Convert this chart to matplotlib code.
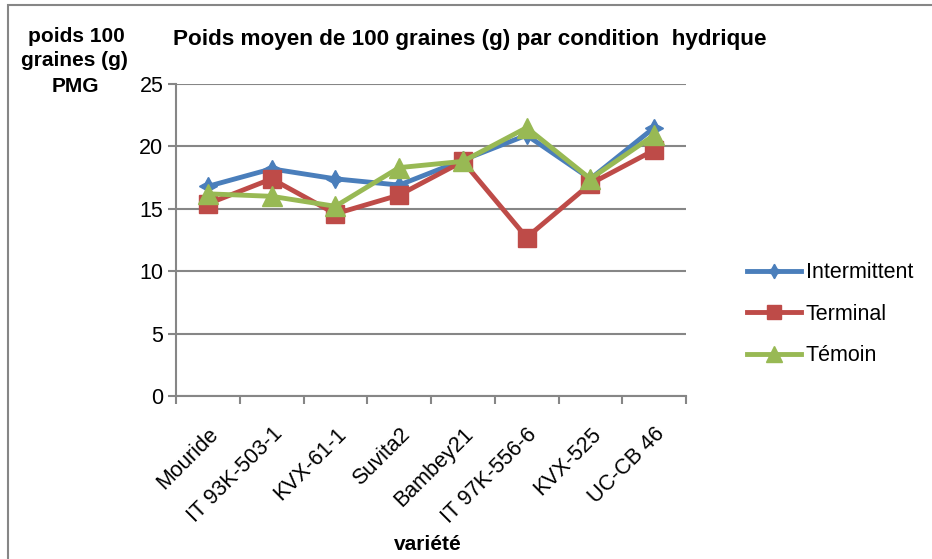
import matplotlib
matplotlib.use("Agg")
import matplotlib.pyplot as plt
from matplotlib.patches import Rectangle

plt.rcParams['font.family'] = ['Liberation Sans', 'DejaVu Sans']

categories = ["Mouride", "IT 93K-503-1", "KVX-61-1", "Suvita2", "Bambey21",
              "IT 97K-556-6", "KVX-525", "UC-CB 46"]
intermittent = [16.8, 18.2, 17.4, 16.9, 18.9, 20.9, 17.4, 21.5]
terminal = [15.4, 17.4, 14.6, 16.1, 18.8, 12.7, 17.0, 19.7]
temoin = [16.2, 16.0, 15.2, 18.3, 18.8, 21.5, 17.4, 20.9]
yticks = [0, 5, 10, 15, 20, 25]

fig = plt.figure(figsize=(9.32, 5.59), dpi=100)
ax = fig.add_axes([176/932, 1-396/559, (686-176)/932, (396-84)/559])

x = list(range(len(categories)))
ax.plot(x, intermittent, color='#4a7ebb', lw=3.5, marker=(4, 1, 0), ms=13,
        label='Intermittent', zorder=3)
ax.plot(x, terminal, color='#be4b48', lw=3.5, marker='s', ms=13,
        label='Terminal', zorder=3)
ax.plot(x, temoin, color='#98b954', lw=3.5, marker='^', ms=14,
        label='Témoin', zorder=4)

ax.set_xlim(-0.5, len(categories)-0.5)
ax.set_ylim(0, 25)
ax.set_yticks(yticks)
ax.set_yticklabels([str(v) for v in yticks], fontsize=15.5)
ax.set_xticks([i - 0.5 for i in range(len(categories)+1)], minor=False)
ax.set_xticklabels([])
ax.set_xticks(x, minor=True)
ax.set_xticklabels(categories, minor=True, rotation=45, ha='right',
                   rotation_mode='anchor', fontsize=15.5)
ax.tick_params(axis='x', which='minor', length=0, pad=20)
ax.tick_params(axis='x', which='major', length=6, color='#868686', width=1.5)
ax.tick_params(axis='y', length=6, color='#868686', width=1.5, pad=3)

ax.grid(axis='y', color='#868686', lw=1.5)
ax.set_axisbelow(True)
for s in ['top', 'right']:
    ax.spines[s].set_visible(False)
for s in ['left', 'bottom']:
    ax.spines[s].set_color('#868686')
    ax.spines[s].set_linewidth(1.5)

fig.text(428/932, 1-545/559, 'variété', fontsize=15, fontweight='bold',
         va='center', ha='center')

fig.text(173/932, 1-40/559, 'Poids moyen de 100 graines (g) par condition  hydrique',
         fontsize=16.2, fontweight='bold', va='center', ha='left')
fig.text(76/932, 1-36/559, 'poids 100', fontsize=15, fontweight='bold',
         va='center', ha='center')
fig.text(74/932, 1-61/559, 'graines (g)', fontsize=15, fontweight='bold',
         va='center', ha='center')
fig.text(75/932, 1-86/559, 'PMG', fontsize=15, fontweight='bold',
         va='center', ha='center')

leg = fig.legend(loc='upper left', bbox_to_anchor=(728/932, 1-243/559),
                 frameon=False, fontsize=15.5, handlelength=2.5,
                 labelspacing=0.95, handletextpad=0.2, markerscale=0.8)

fig.patches.append(Rectangle((8/932, -0.1), 1.0, 1.1-5/559, transform=fig.transFigure,
                             fill=False, edgecolor='#868686', lw=1.5))

fig.savefig('out.png', dpi=100)
